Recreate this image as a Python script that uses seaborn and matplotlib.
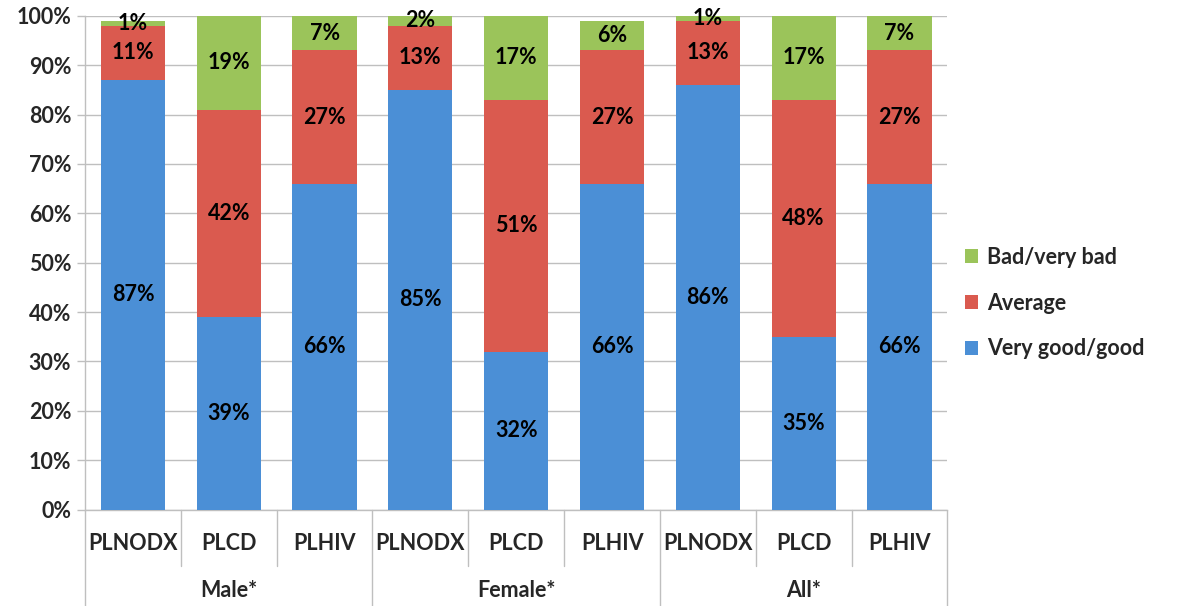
import matplotlib
matplotlib.use("Agg")
import matplotlib.pyplot as plt
import matplotlib.transforms as mtransforms
import numpy as np
import pandas as pd
import seaborn as sns

groups = ["Male*", "Female*", "All*"]
populations = ["PLNODX", "PLCD", "PLHIV"]
ratings = ["Very good/good", "Average", "Bad/very bad"]

very_good = [87, 39, 66, 85, 32, 66, 86, 35, 66]
average = [11, 42, 27, 13, 51, 27, 13, 48, 27]
bad = [1, 19, 7, 2, 17, 6, 1, 17, 7]

colors = {"Very good/good": "#4b8fd6", "Average": "#da5a4f", "Bad/very bad": "#9bc45a"}

sns.set_theme(style="white")
plt.rcParams["font.family"] = ["Lato", "DejaVu Sans"]
plt.rcParams["font.weight"] = "bold"
FS = 15.5

keys = [f"{g}|{p}" for g in groups for p in populations]
df = pd.DataFrame({"key": keys, "Very good/good": very_good,
                   "Average": average, "Bad/very bad": bad})
df["cum_vg"] = df["Very good/good"]
df["cum_avg"] = df["cum_vg"] + df["Average"]
df["cum_bad"] = df["cum_avg"] + df["Bad/very bad"]

fig = plt.figure(figsize=(11.78, 6.06), dpi=100)
ax = fig.add_axes([0.0722, 0.159, 0.732, 0.815])

# stacked bars drawn as overlapping cumulative bars (top first)
for col, rating in [("cum_bad", "Bad/very bad"), ("cum_avg", "Average"), ("cum_vg", "Very good/good")]:
    sns.barplot(data=df, x="key", y=col, order=keys, color=colors[rating],
                width=0.67, saturation=1, ax=ax, label=rating, zorder=3,
                linewidth=0, edgecolor="none")

# segment labels
for i, row in df.iterrows():
    bottoms = [0, row["cum_vg"], row["cum_avg"]]
    for b, rating in zip(bottoms, ratings):
        v = row[rating]
        ax.text(i, b + v / 2, f"{v}%", ha="center", va="center",
                fontsize=FS, fontweight="bold", color="black", zorder=5)

ax.set_ylim(0, 100)
ax.set_xlim(-0.5, len(keys) - 0.5)
ax.set_yticks(np.arange(0, 101, 10))
ax.set_yticklabels([f"{t}%" for t in range(0, 101, 10)], fontweight="bold")
ax.yaxis.grid(True, color="#bfbfbf", linewidth=1)
ax.set_axisbelow(True)
ax.tick_params(axis="y", length=6, color="#bfbfbf", width=1, labelsize=FS, pad=4, left=True)
ax.set_xticks(range(len(keys)))
ax.set_xticklabels([k.split("|")[1] for k in keys], fontsize=FS, fontweight="bold")
ax.tick_params(axis="x", length=0, pad=17)
ax.set_xlabel("")
ax.set_ylabel("")
for s in ["top", "right"]:
    ax.spines[s].set_visible(False)
for s in ["left", "bottom"]:
    ax.spines[s].set_color("#bfbfbf")
    ax.spines[s].set_linewidth(1)

# category axis separators
trans = mtransforms.blended_transform_factory(ax.transData, fig.transFigure)
for i in range(len(keys) + 1):
    x = i - 0.5
    y_end = 0.0 if i % 3 == 0 else 0.066
    ax.plot([x, x], [0.159, y_end], transform=trans, color="#bfbfbf",
            linewidth=1, clip_on=False)
for j, g in enumerate(groups):
    ax.text(j * 3 + 1, 0.026, g, transform=trans, ha="center", va="center",
            fontsize=FS, fontweight="bold")

handles, labels = ax.get_legend_handles_labels()
order = [labels.index(r) for r in ["Bad/very bad", "Average", "Very good/good"]]
leg = ax.legend([handles[k] for k in order], [labels[k] for k in order],
                loc="center left", bbox_to_anchor=(0.803, 0.5), bbox_transform=fig.transFigure,
                frameon=False, handlelength=0.6, handleheight=0.6,
                handletextpad=0.4, labelspacing=1.15,
                prop={"size": FS, "weight": "bold"})

fig.savefig("out.png", dpi=100)
